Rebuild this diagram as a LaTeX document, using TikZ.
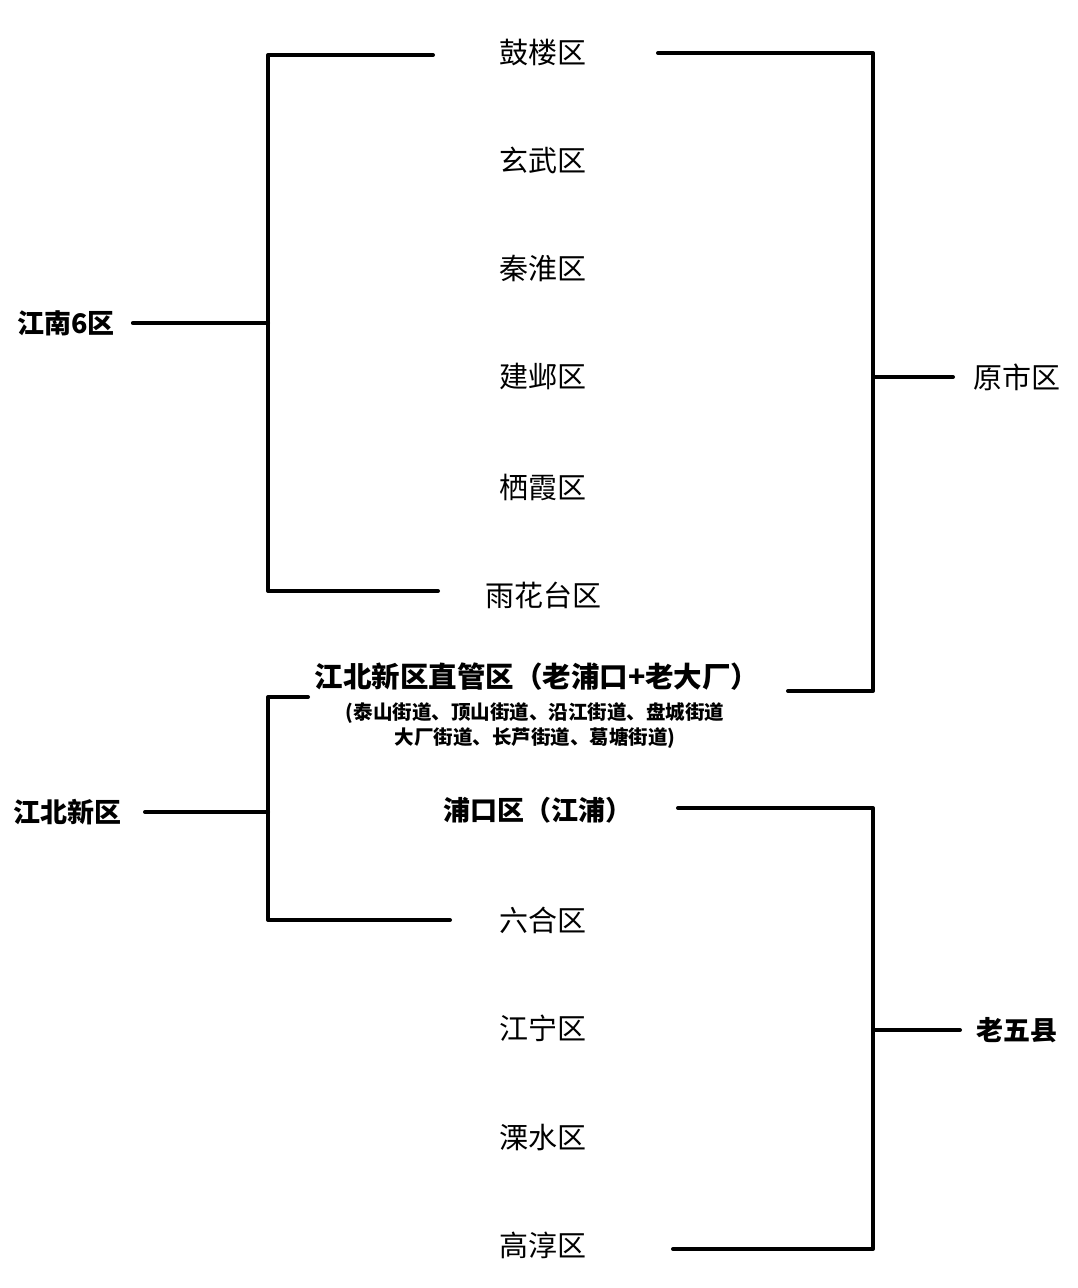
\documentclass[tikz,border=0pt]{standalone}
\usepackage{fontspec}
\setmainfont{Noto Sans CJK SC}
\begin{document}
\begin{tikzpicture}[x=1pt,y=-1pt,
  ln/.style={line width=4pt,line join=round,line cap=round},
  lab/.style={font=\fontsize{29}{32}\selectfont,inner sep=0pt},
  blab/.style={font=\fontsize{27}{30}\selectfont\bfseries,inner sep=0pt},
  sub/.style={font=\fontsize{19.5}{25}\selectfont\bfseries,inner sep=0pt,align=center}]
\useasboundingbox (0,0) rectangle (1078,1288);
\node[blab] (jn) at (66,323) {江南6区};
\node[lab] (gl) at (543,53) {鼓楼区};
\node[lab] (xw) at (543,160) {玄武区};
\node[lab] (qh) at (543,268) {秦淮区};
\node[lab] (jy) at (543,376) {建邺区};
\node[lab] (qx) at (543,487) {栖霞区};
\node[lab] (yh) at (543,595) {雨花台区};
\node[blab,font=\fontsize{28.5}{30}\selectfont\bfseries] (zg) at (537,677) {江北新区直管区（老浦口+老大厂）};
\node[sub] (jd) at (535,726) {(泰山街道、顶山街道、沿江街道、盘城街道\\大厂街道、长芦街道、葛塘街道)};
\node[lab] (ys) at (1017,377) {原市区};
\node[blab] (jb) at (67,812) {江北新区};
\node[blab] (pk) at (538,810) {浦口区（江浦）};
\node[lab] (lh) at (543,920) {六合区};
\node[lab] (jnq) at (543,1028) {江宁区};
\node[lab] (ls) at (543,1138) {溧水区};
\node[lab] (gc) at (543,1245) {高淳区};
\node[blab] (lw) at (1017,1030) {老五县};
\coordinate (a1) at (433,55); \coordinate (a2) at (438,591);
\draw[ln] (a1) -- (268,55) -- (268,591) -- (a2);
\draw[ln] (jn.east)++(18,0) -- (268,323);
\draw[ln] (658,53) -- (873,53) -- (873,691) -- (788,691);
\draw[ln] (873,377) -- (953,377);
\draw[ln] (308,697) -- (268,697) -- (268,920) -- (450,920);
\draw[ln] (145,812) -- (268,812);
\draw[ln] (678,808) -- (873,808) -- (873,1249) -- (673,1249);
\draw[ln] (873,1030) -- (960,1030);
\end{tikzpicture}
\end{document}
